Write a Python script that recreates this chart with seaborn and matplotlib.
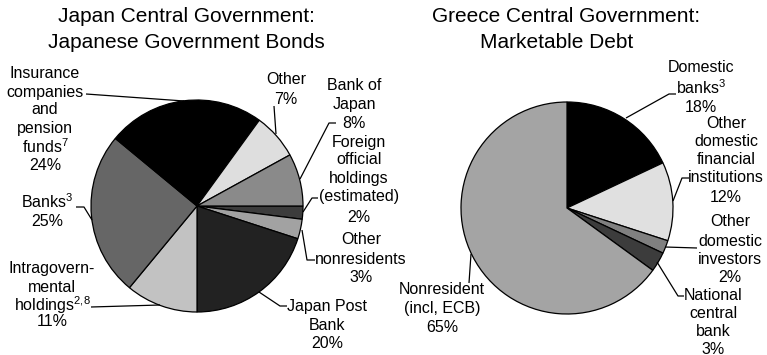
import matplotlib
matplotlib.use("Agg")
import matplotlib.pyplot as plt
import seaborn as sns

sns.set_theme(style="white")
plt.rcParams["font.family"] = ["Liberation Sans", "DejaVu Sans"]
plt.rcParams["mathtext.fontset"] = "custom"
plt.rcParams["mathtext.rm"] = "Liberation Sans"
plt.rcParams["mathtext.it"] = "Liberation Sans"
plt.rcParams["mathtext.bf"] = "Liberation Sans:bold"

# --- Japan: JGB holders, clockwise from 3 o'clock ---
japan_holders = ["Foreign official holdings", "Other nonresidents", "Japan Post Bank",
                 "Intragovernmental holdings", "Banks", "Insurance companies and pension funds",
                 "Other", "Bank of Japan"]
japan_share = [2, 3, 20, 11, 25, 24, 7, 8]
japan_colors = ["#3c3c3c", "#a2a2a2", "#222222", "#c2c2c2", "#666666", "#000000",
                "#dedede", "#8a8a8a"]

# --- Greece: marketable debt holders, clockwise from 12 o'clock ---
greece_holders = ["Domestic banks", "Other domestic financial institutions",
                  "Other domestic investors", "National central bank", "Nonresident (incl, ECB)"]
greece_share = [18, 12, 2, 3, 65]
greece_colors = ["#000000", "#e0e0e0", "#808080", "#3c3c3c", "#a4a4a4"]

W, H = 767, 355
fig = plt.figure(figsize=(W / 100, H / 100), dpi=100)
ax = fig.add_axes([0, 0, 1, 1])

R = 106
jc = (197, 206)
gc = (567, 208)

wp = dict(edgecolor="black", linewidth=0.9)
ax.pie(japan_share, colors=japan_colors, startangle=0, counterclock=False,
       center=(jc[0], H - jc[1]), radius=R, wedgeprops=wp, frame=True)
ax.pie(greece_share, colors=greece_colors, startangle=90, counterclock=False,
       center=(gc[0], H - gc[1]), radius=R, wedgeprops=wp, frame=True)

ax.set_xlim(0, W)
ax.set_ylim(0, H)
ax.set_aspect("equal")
ax.axis("off")

TITLE_FS = 15
LABEL_FS = 11.5


def txt(x, y, s, fs=LABEL_FS):
    ax.text(x, H - y, s, ha="center", va="center", fontsize=fs, color="black")


def block(x, ys, lines):
    for y, s in zip(ys, lines):
        txt(x, y, s)


def leader(*pts):
    ax.plot([p[0] for p in pts], [H - p[1] for p in pts], color="black", lw=0.9,
            solid_capstyle="butt")


# titles
txt(186, 17, "Japan Central Government:", TITLE_FS)
txt(186, 42, "Japanese Government Bonds", TITLE_FS)
txt(566, 17, "Greece Central Government:", TITLE_FS)
txt(557, 42, "Marketable Debt", TITLE_FS)

# Japan labels
block(45, [73, 92, 110, 128, 147, 165],
      ["Insurance", "companies", "and", "pension", r"funds$^{\mathregular{7}}$",
       f"{japan_share[5]}%"])
leader((86, 94), (184, 101))

block(286, [80, 100], ["Other", f"{japan_share[6]}%"])
leader((274, 106), (276, 134))

block(354, [85, 104, 123], ["Bank of", "Japan", f"{japan_share[7]}%"])
leader((336, 123), (329, 123), (300, 179))

block(359, [142, 160, 178, 197, 217],
      ["Foreign", "official", "holdings", "(estimated)", f"{japan_share[0]}%"])
leader((318, 198), (312, 198), (303, 212))

block(361, [240, 259, 278], ["Other", "nonresidents", f"{japan_share[1]}%"])
leader((315, 260), (307, 260), (302, 230))

block(327, [307, 325, 343], ["Japan Post", "Bank", f"{japan_share[2]}%"])
leader((287, 306), (280, 306), (259, 292))

block(52, [268, 287, 305, 322],
      ["Intragovern-", "mental", r"holdings$^{\mathregular{2{,}8}}$", f"{japan_share[3]}%"])
leader((91, 307), (160, 305))

block(47, [202, 221], [r"Banks$^{\mathregular{3}}$", f"{japan_share[4]}%"])
leader((76, 207), (84, 207), (92, 220))

# Greece labels
block(701, [68, 88, 107], ["Domestic", r"banks$^{\mathregular{3}}$", f"{greece_share[0]}%"])
leader((676, 94), (669, 94), (626, 118))

block(726, [124, 142, 160, 178, 198],
      ["Other", "domestic", "financial", "institutions", f"{greece_share[1]}%"])
leader((689, 178), (682, 178), (673, 201))

block(730, [222, 241, 259, 278], ["Other", "domestic", "investors", f"{greece_share[2]}%"])
leader((697, 248), (665, 247))

block(713, [295, 313, 331, 349], ["National", "central", "bank", f"{greece_share[3]}%"])
leader((684, 296), (678, 296), (657, 262))

block(442, [290, 308, 327], ["Nonresident", "(incl, ECB)", f"{greece_share[4]}%"])
leader((469, 283), (471, 254))

fig.savefig("out.png", dpi=100)
